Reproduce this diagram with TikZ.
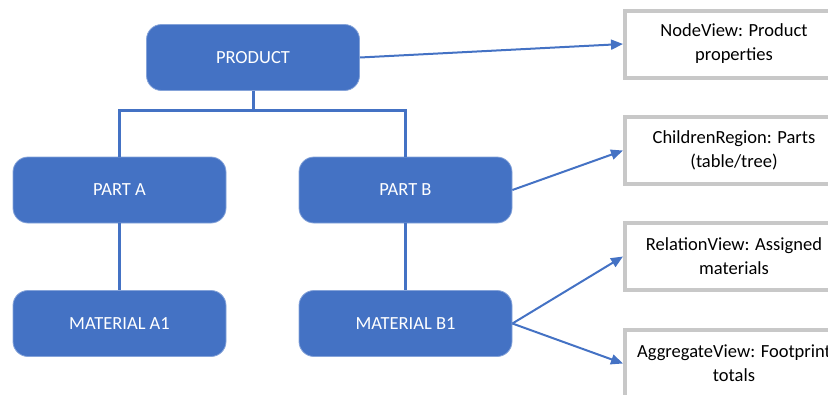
\documentclass[tikz,border=0pt]{standalone}
\usepackage{fontspec}
\setmainfont{Carlito}
\usetikzlibrary{arrows.meta}
\definecolor{blu}{HTML}{4472C4}
\definecolor{grigio}{HTML}{C8C8C8}
\tikzset{
  blocco/.style={draw=blu!65!white, line width=0.8pt, fill=blu, rounded corners=15pt,
    minimum width=213pt, minimum height=66pt, text=white, font=\fontsize{18.5}{22}\selectfont},
  vista/.style={draw=grigio, line width=4pt, fill=white, minimum width=218pt,
    minimum height=67pt, align=center, font=\fontsize{18.5}{24}\selectfont},
  linea/.style={blu, line width=3pt},
  freccia/.style={blu, line width=2pt, -{Triangle[length=12pt,width=10pt]}}
}
\begin{document}
\begin{tikzpicture}[x=1pt,y=-1pt]
    \useasboundingbox (0,0) rectangle (828,394);
    \clip (0,0) rectangle (828,394);

    % albero
    \node[blocco] (prod) at (253,57.5) {PRODUCT};
    \node[blocco] (partA) at (119.5,190) {PART A};
    \node[blocco] (partB) at (405.5,190) {PART B};
    \node[blocco] (matA) at (119.5,323.5) {MATERIAL A1};
    \node[blocco] (matB) at (405.5,323.5) {MATERIAL B1};
    \coordinate (giunto) at (253,110);

    \draw[linea] (prod.south) -- (giunto);
    \draw[linea] (partA.north) |- (giunto) -| (partB.north);
    \draw[linea] (partA.south) -- (matA.north);
    \draw[linea] (partB.south) -- (matB.north);

    % viste
    \node[vista] (nodeView) at (734,44) {NodeView: Product\\properties};
    \node[vista] (childView) at (734,150.5) {ChildrenRegion: Parts\\(table/tree)};
    \node[vista] (relView) at (734,256.5) {RelationView: Assigned\\materials};
    \node[vista] (aggView) at (734,363.5) {AggregateView: Footprint\\totals};

    \draw[freccia] (prod.east) -- (nodeView.west);
    \draw[freccia] (partB.east) -- (childView.west);
    \draw[freccia] (matB.east) -- (relView.west);
    \draw[freccia] (matB.east) -- (aggView.west);
\end{tikzpicture}
\end{document}
